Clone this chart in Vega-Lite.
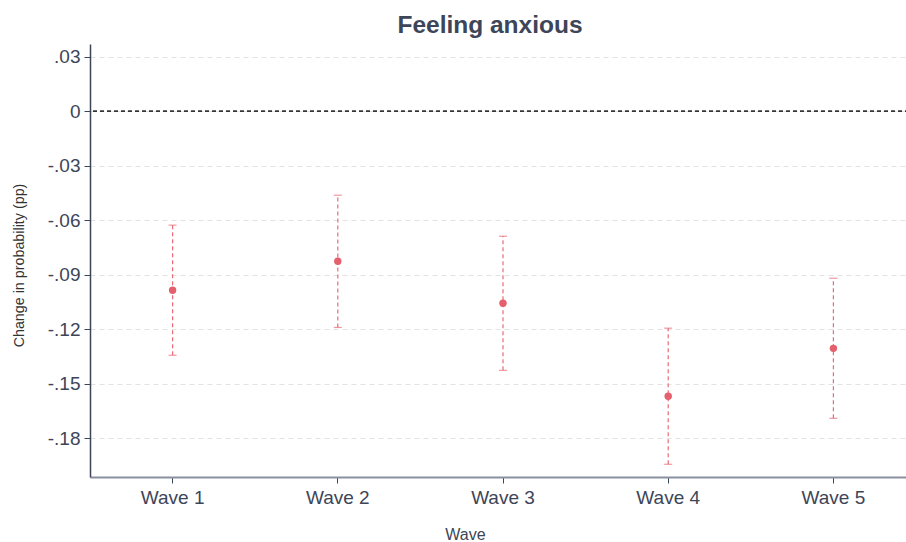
{
  "$schema": "https://vega.github.io/schema/vega-lite/v6.json",
  "width": 826,
  "height": 433,
  "autosize": "none",
  "padding": {"left": 90, "top": 44, "right": 0, "bottom": 65},
  "background": "white",
  "config": {"view": {"stroke": null}, "font": "Liberation Sans"},
  "title": {"text": "Feeling anxious", "fontSize": 24.5, "fontWeight": "bold", "color": "#3d4558", "offset": 6, "anchor": "middle", "font": "Liberation Sans", "dx": -13},
  "data": {"values": [
    {"wave": "Wave 1", "est": -0.0985, "lo": -0.1343, "hi": -0.0627},
    {"wave": "Wave 2", "est": -0.0826, "lo": -0.1190, "hi": -0.0462},
    {"wave": "Wave 3", "est": -0.1057, "lo": -0.1426, "hi": -0.0688},
    {"wave": "Wave 4", "est": -0.1569, "lo": -0.1943, "hi": -0.1194},
    {"wave": "Wave 5", "est": -0.1305, "lo": -0.1690, "hi": -0.0919}
  ]},
  "encoding": {
    "x": {"field": "wave", "type": "nominal", "scale": {"paddingInner": 0, "paddingOuter": 0},
      "axis": {"title": "Wave", "titleFontSize": 16, "titleFontWeight": "normal", "titleColor": "#3d4558", "titlePadding": 19, "titleX": 375,
        "labelAngle": 0, "labelFontSize": 19, "labelColor": "#3d4558", "labelPadding": 5, "domainColor": "#8a90a0", "domainWidth": 2, "tickColor": "#3d4558", "tickSize": 6, "grid": false}}
  },
  "layer": [
    {
      "mark": {"type": "rule", "color": "#333333", "strokeDash": [4, 3], "strokeWidth": 0.8},
      "encoding": {"y": {"datum": 0, "type": "quantitative"}, "x": null}
    },
    {
      "mark": {"type": "rule", "color": "#ea6b76", "strokeDash": [4, 3], "strokeWidth": 1.2},
      "encoding": {
        "y": {"field": "lo", "type": "quantitative", "scale": {"domain": [-0.2013, 0.037], "nice": false, "zero": false},
          "axis": {"title": "Change in probability (pp)", "titleFontSize": 14.3, "titleFontWeight": "normal", "titleColor": "#333333", "titlePadding": 21, "titleY": 221,
            "values": [-0.18, -0.15, -0.12, -0.09, -0.06, -0.03, 0, 0.03],
            "labelExpr": "datum.value == 0 ? '0' : (datum.value < 0 ? '-' : '') + replace(format(abs(datum.value), '.2f'), '0.', '.')",
            "labelFontSize": 19, "labelColor": "#3d4558", "labelPadding": 4, "domainColor": "#3d4558", "domainWidth": 1.5, "tickColor": "#3d4558", "tickSize": 6,
            "grid": true, "gridColor": "#e3e3e3", "gridDash": [5, 4], "gridWidth": 1}},
        "y2": {"field": "hi"}
      }
    },
    {
      "mark": {"type": "tick", "color": "#ea6b76", "size": 8, "thickness": 1.2, "orient": "horizontal"},
      "encoding": {"y": {"field": "lo", "type": "quantitative"}}
    },
    {
      "mark": {"type": "tick", "color": "#ea6b76", "size": 8, "thickness": 1.2, "orient": "horizontal"},
      "encoding": {"y": {"field": "hi", "type": "quantitative"}}
    },
    {
      "mark": {"type": "point", "filled": true, "color": "#e3606c", "size": 55, "opacity": 1},
      "encoding": {"y": {"field": "est", "type": "quantitative"}}
    }
  ]
}
